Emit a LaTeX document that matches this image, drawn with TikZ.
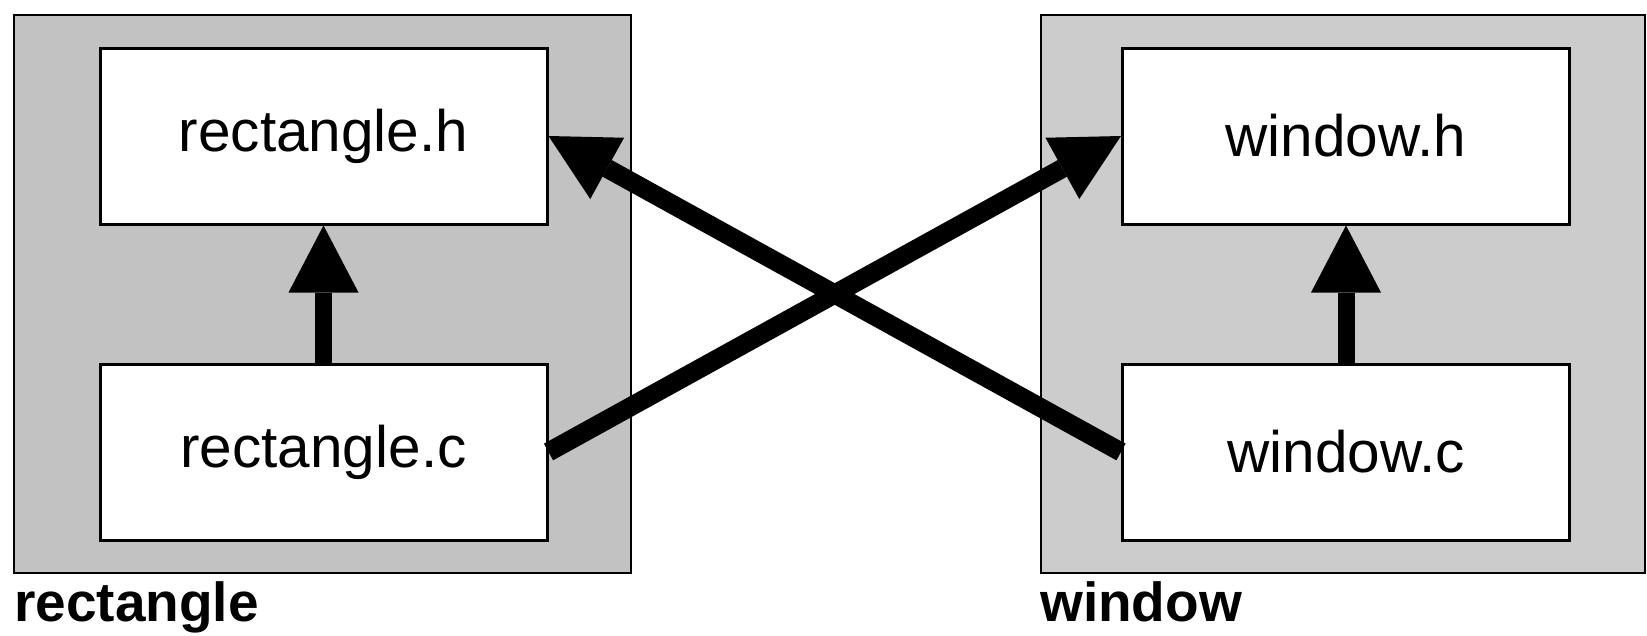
\documentclass[tikz,border=0pt]{standalone}
\usepackage{fontspec}
\setmainfont{Liberation Sans}
\usetikzlibrary{arrows.meta}
\definecolor{shadeL}{gray}{0.76}
\definecolor{shadeR}{gray}{0.80}
\tikzset{
  pkg/.style={draw=black, line width=2pt, inner sep=0pt},
  file/.style={draw=black, fill=white, line width=3pt, minimum width=447pt, minimum height=176pt, inner sep=0pt, font=\fontsize{58.5}{66}\selectfont},
  pkglabel/.style={anchor=base west, inner sep=0pt, font=\fontsize{55}{62}\selectfont\bfseries},
  dep/.style={line width=17pt, -{Triangle[length=67pt,width=70pt,line width=0pt]}},
  xdep/.style={dep, line width=19pt},
}
\begin{document}
\begin{tikzpicture}[x=1pt,y=-1pt]
\useasboundingbox (0,0) rectangle (1647,635);
% package boxes
\node[pkg, fill=shadeL, minimum width=617pt, minimum height=558pt] (pkgL) at (322.5,294) {};
\node[pkg, fill=shadeR, minimum width=604pt, minimum height=558pt] (pkgR) at (1343,294) {};
% files
\node[file] (rh) at (323.5,136) {rectangle.h};
\node[file] (rc) at (323.5,452) {rectangle.c};
\node[file] (wh) at (1346,136) {window.h};
\node[file] (wc) at (1346,452) {window.c};
% labels
\node[pkglabel] (lblL) at (14,621) {rectangle};
\node[pkglabel] (lblR) at (1040,621) {window};
% dependencies
\draw[dep] (rc.north) -- (rh.south);
\draw[dep] (wc.north) -- (wh.south);
\draw[xdep] (rc.east) -- (wh.west);
\draw[xdep] (wc.west) -- (rh.east);
\end{tikzpicture}
\end{document}
